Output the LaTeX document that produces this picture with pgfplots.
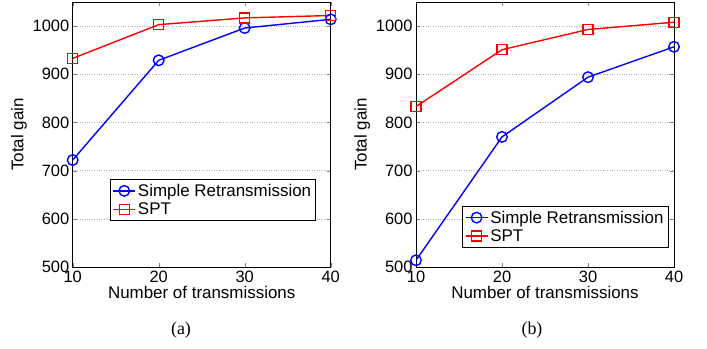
\documentclass[border=0pt]{standalone}
\usepackage{fontspec}
\setmainfont{Liberation Sans}
\newfontfamily\capfont{Liberation Serif}
\usepackage{pgfplots}
\pgfplotsset{compat=1.18}
\pgfplotsset{
  myaxis/.style={
    scale only axis, width=258bp, height=265bp,
    xmin=10, xmax=40, ymin=500, ymax=1050,
    xtick={10,20,30,40}, ytick={500,600,700,800,900,1000},
    tick align=inside, major tick length=4bp,
    xtick pos=both, ytick pos=both,
    ymajorgrids, grid style={dotted, gray!60, line width=0.6pt},
    axis line style={line width=0.7pt, black},
    /pgf/number format/assume math mode=true,
    /pgf/number format/1000 sep={},
    tick label style={font=\fontsize{16.5}{16.5}\selectfont},
    label style={font=\fontsize{17}{17}\selectfont},
    xlabel={Number of transmissions},
    ylabel={Total gain},
    xticklabel style={yshift=-1bp},
    xlabel style={yshift=4bp},
    ylabel style={yshift=-1bp},
    legend cell align=left,
    legend style={font=\fontsize{17}{19}\selectfont, draw=black, line width=0.7pt,
      inner sep=2.5bp, row sep=1bp},
    legend image code/.code={\draw[#1] (0bp,0bp) -- (22bp,0bp); \draw[#1,mark repeat=2,mark phase=2] plot coordinates {(0bp,0bp) (11bp,0bp) (22bp,0bp)};},
  },
  sr/.style={blue, line width=1.4pt, mark=o, mark size=5.3bp, mark options={blue, solid, line width=1.4pt}},
  spt/.style={red, line width=1.4pt, mark=square, mark size=5bp, mark options={red, solid, line width=1.4pt}},
}
\begin{document}
\begin{tikzpicture}
\path[use as bounding box] (0,0) rectangle (707bp,349bp);
\begin{axis}[myaxis, at={(72.7bp,82bp)}, anchor=south west,
  legend style={at={(0.943,0.174)}, anchor=south east}]
\addplot[sr] coordinates {(10,722) (20,929) (30,996) (40,1014)};
\addlegendentry{Simple Retransmission}
\addplot[spt] coordinates {(10,933) (20,1003) (30,1017) (40,1022)};
\addlegendentry{SPT}
\end{axis}
\begin{axis}[myaxis, at={(416bp,82bp)}, anchor=south west,
  legend style={at={(0.978,0.073)}, anchor=south east}]
\addplot[sr] coordinates {(10,514) (20,770) (30,894) (40,957)};
\addlegendentry{Simple Retransmission}
\addplot[spt] coordinates {(10,833) (20,951) (30,993) (40,1008)};
\addlegendentry{SPT}
\end{axis}
\node[font=\capfont\fontsize{18}{18}\selectfont] at (181bp,19bp) {(a)};
\node[font=\capfont\fontsize{18}{18}\selectfont] at (532bp,19bp) {(b)};
\end{tikzpicture}
\end{document}
